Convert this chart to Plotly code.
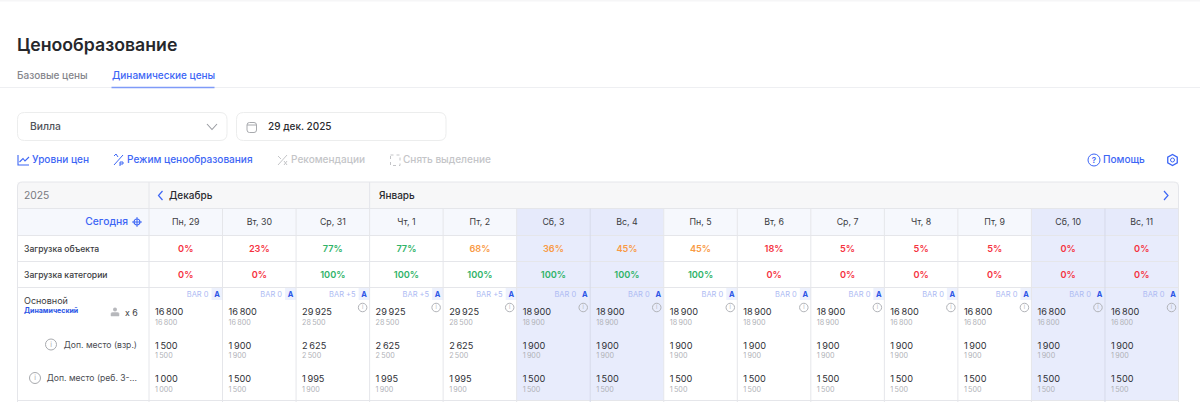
import plotly.graph_objects as go

# Table values
days = ['Пн, 29', 'Вт, 30', 'Ср, 31', 'Чт, 1', 'Пт, 2', 'Сб, 3', 'Вс, 4', 'Пн, 5', 'Вт, 6', 'Ср, 7', 'Чт, 8', 'Пт, 9', 'Сб, 10', 'Вс, 11']
weekend = [0, 0, 0, 0, 0, 1, 1, 0, 0, 0, 0, 0, 1, 1]
object_load = [0, 23, 77, 77, 68, 36, 45, 45, 18, 5, 5, 5, 0, 0]
category_load = [0, 0, 100, 100, 100, 100, 100, 100, 0, 0, 0, 0, 0, 0]
bar_labels = ['BAR 0', 'BAR 0', 'BAR +5', 'BAR +5', 'BAR +5', 'BAR 0', 'BAR 0', 'BAR 0', 'BAR 0', 'BAR 0', 'BAR 0', 'BAR 0', 'BAR 0', 'BAR 0']
has_info = [0, 0, 1, 1, 1, 1, 1, 1, 1, 1, 1, 1, 1, 1]
main_price = [16800, 16800, 29925, 29925, 29925, 18900, 18900, 18900, 18900, 18900, 16800, 16800, 16800, 16800]
main_base = [16800, 16800, 28500, 28500, 28500, 18900, 18900, 18900, 18900, 18900, 16800, 16800, 16800, 16800]
adult_price = [1500, 1900, 2625, 2625, 2625, 1900, 1900, 1900, 1900, 1900, 1900, 1900, 1900, 1900]
adult_base = [1500, 1900, 2500, 2500, 2500, 1900, 1900, 1900, 1900, 1900, 1900, 1900, 1900, 1900]
child_price = [1000, 1500, 1995, 1995, 1995, 1500, 1500, 1500, 1500, 1500, 1500, 1500, 1500, 1500]
child_base = [1000, 1500, 1900, 1900, 1900, 1500, 1500, 1500, 1500, 1500, 1500, 1500, 1500, 1500]

FONT = 'Inter'
BLUE = '#3d66f5'
DARK = '#2a2b30'
FAINT = '#b0b2b7'
GRID = '#e5e6ea'
RED = '#f5333f'
ORANGE = '#f99a45'
GREEN = '#2fb368'

LEFT, RIGHT = 17.5, 1178.5
COL0 = 149.0
COLW = (RIGHT - COL0) / len(days)
ROWS = [182, 208.5, 235.5, 261.5, 287.5, 400.5]

col_left = [COL0 + i * COLW for i in range(len(days))]
col_mid = [x + COLW / 2 for x in col_left]
col_right = [x + COLW for x in col_left]

fig = go.Figure()
shapes = []


def rect(x0, y0, x1, y1, fill):
    shapes.append(dict(type='rect', x0=x0, y0=y0, x1=x1, y1=y1, fillcolor=fill, line=dict(width=0), layer='below'))


def hline(x0, x1, y, color=GRID, width=1):
    shapes.append(dict(type='line', x0=x0, x1=x1, y0=y, y1=y, line=dict(color=color, width=width), layer='below'))


def vline(x, y0, y1, color=GRID, width=1):
    shapes.append(dict(type='line', x0=x, x1=x, y0=y0, y1=y1, line=dict(color=color, width=width), layer='below'))


def icon(path, color, width=1.1, fill=None, dash='solid'):
    shapes.append(dict(type='path', path=path, line=dict(color=color, width=width, dash=dash),
                       fillcolor=fill or 'rgba(0,0,0,0)', layer='above'))


def rounded(x0, y0, x1, y1, r):
    return (f'M{x0+r},{y0} L{x1-r},{y0} Q{x1},{y0} {x1},{y0+r} L{x1},{y1-r} Q{x1},{y1} {x1-r},{y1} '
            f'L{x0+r},{y1} Q{x0},{y1} {x0},{y1-r} L{x0},{y0+r} Q{x0},{y0} {x0+r},{y0} Z')


def text(xs, ys, labels, size, color, pos='middle right', weight=400):
    fig.add_trace(go.Scatter(x=xs, y=ys, text=labels, mode='text', textposition=pos, hoverinfo='skip',
                             textfont=dict(family=FONT, size=size, color=color, weight=weight)))


def circles(xs, ys, size, color, symbol='circle-open', lw=1):
    fig.add_trace(go.Scatter(x=xs, y=ys, mode='markers', hoverinfo='skip',
                             marker=dict(symbol=symbol, size=size, color=color, line=dict(color=color, width=lw))))


def money(v):
    return f'{v:,}'.replace(',', '\u2009')


def load_color(v):
    if v >= 77:
        return GREEN
    return ORANGE if v >= 30 else RED


# page chrome
rect(0, 0, 1200, 1.5, '#f6f6f7')
hline(0, 1200, 87.5, '#eeeff2')
hline(111.5, 214.5, 87.5, '#7f9bf8', 1.5)
text([17], [46.5], ['Ценообразование'], 17.7, '#26272b', weight=600)
text([17], [76], ['Базовые цены'], 10, '#85868c', weight=500)
text([112], [76], ['Динамические цены'], 10, BLUE, weight=500)

# selectors
icon(rounded(17.5, 112.5, 227, 140.5, 7), '#eceded', 1)
icon(rounded(236.5, 112.5, 446, 140.5, 7), '#eceded', 1)
text([30], [127.5], ['Вилла'], 10.3, '#50525a', weight=500)
icon('M207,124 L212,129.5 L217,124', '#9a9ca2', 1.1)
icon(rounded(247, 122.5, 256.5, 132.5, 2.5) + ' M247,125 L256.5,125', '#a8aaae', 1)
text([268], [127], ['29 дек. 2025'], 10, DARK, weight=500)

# toolbar
text([32, 127], [160.5, 160.5], ['Уровни цен', 'Режим ценообразования'], 10.05, BLUE, weight=500)
text([291, 403], [160.5, 160.5], ['Рекомендации', 'Снять выделение'], 10.05, '#c4c5c8', weight=500)
icon('M18,155 L18,165 L29,165 M19.5,162 L23,158.5 L25,161 L29,157', BLUE, 1.1)
icon('M114,165 L123,155 M114,156 L116,154 L118,157 M120,162 L120,166 M120,162 L123,162 L123,164 L120,164', BLUE, 1)
icon('M278,165 L287,155 M278,156 L281,159 M284,161 L287,165 M287,161 L284,165', '#c4c5c8', 1)
icon('M390.5,155 L400,155 L400,165.5 L390.5,165.5 Z', '#c4c5c8', 1, dash='dot')
text([1103], [160.5], ['Помощь'], 10.05, BLUE, weight=500)
circles([1094], [160], 12, BLUE)
text([1094], [160.5], ['?'], 8, BLUE, pos='middle center', weight=600)
circles([1172.5], [160], 11, BLUE, 'hexagon-open', 1.3)
circles([1172.5], [160], 4, BLUE)

# grid backgrounds
rect(LEFT, ROWS[0], RIGHT, ROWS[1], '#f7f7f8')
rect(LEFT, ROWS[1], COL0, ROWS[2], '#f6f8fd')
for i, we in enumerate(weekend):
    rect(col_left[i], ROWS[1], col_right[i], ROWS[2], '#e6eafb' if we else '#f6f8fd')
    if we:
        rect(col_left[i], ROWS[2], col_right[i], ROWS[5], '#e8ecfc')
    else:
        rect(col_right[i] - 11, ROWS[4] + 0.5, col_right[i], 300, '#edf1fd')

for y in ROWS[1:]:
    hline(LEFT, RIGHT, y)
vline(COL0, ROWS[0], 402)
vline(col_left[3], ROWS[0], ROWS[1])
for i, x in enumerate(col_left[1:], start=1):
    between = weekend[i] and weekend[i - 1]
    vline(x, ROWS[1], 402, '#d6daea' if between else GRID)
vline(LEFT, ROWS[0] + 5, 402)
vline(RIGHT, ROWS[0] + 5, 402)
icon(f'M{LEFT},{ROWS[0]+5} Q{LEFT},{ROWS[0]} {LEFT+5},{ROWS[0]} L{RIGHT-5},{ROWS[0]} Q{RIGHT},{ROWS[0]} {RIGHT},{ROWS[0]+5}', GRID, 1)

# header rows
text([24], [196], ['2025'], 10.3, '#77797f')
text([169], [196], ['Декабрь'], 10, DARK, weight=500)
text([379], [196], ['Январь'], 10, DARK, weight=500)
icon('M162.5,191 L158.5,195.5 L162.5,200', BLUE, 1.2)
icon('M1164,191 L1168,195.5 L1164,200', BLUE, 1.2)
text([128], [222.5], ['Сегодня'], 10.3, BLUE, pos='middle left', weight=500)
circles([137], [222], 6, BLUE, 'circle-open', 1.2)
circles([137], [222], 7, BLUE, 'cross-thin-open', 1)
text(col_mid, [222.5] * len(days), days, 8.8, '#3b3c42', pos='middle center')

# load rows
text([24, 24], [249.5, 275.5], ['Загрузка объекта', 'Загрузка категории'], 8.6, '#3b3c42', weight=500)
for row_y, values in ((249.5, object_load), (275.5, category_load)):
    text(col_mid, [row_y] * len(days), [f'{v}%' for v in values], 9.2,
         [load_color(v) for v in values], pos='middle center', weight=600)

# room row labels
text([24], [301.5], ['Основной'], 9, '#3b3c42')
text([24], [311], ['Динамический'], 7, '#2b55e6', weight=700)
circles([115], [309.5], 4, '#b7b8bc', 'circle', 0)
icon('M111,316 L111,313.5 Q111,312.5 113,312.5 L117,312.5 Q119,312.5 119,313.5 L119,316 Z', '#b7b8bc', 0.5, '#b7b8bc')
text([125], [313.5], ['x 6'], 8.8, '#3b3c42')
text([137, 137], [345.5, 379], ['Доп. место (взр.)', 'Доп. место (реб. 3-...'], 8.6, '#4b4c52', pos='middle left')
circles([51, 35], [344.5, 378], 11, '#a8aaae')
text([51, 35], [345, 378.5], ['i', 'i'], 7, '#a8aaae', pos='middle center')

# room row cells
text([x - 14 for x in col_right], [295] * len(days), bar_labels, 7.5, '#aebbf3', pos='middle left')
text([x - 5.5 for x in col_right], [295] * len(days), ['A'] * len(days), 7.5, '#2b55e6', pos='middle center', weight=700)

info_x = [r - 7 for r, f in zip(col_right, has_info) if f]
circles(info_x, [307.5] * len(info_x), 8.5, '#b1b3b8')
text(info_x, [308] * len(info_x), ['i'] * len(info_x), 5.5, '#b1b3b8', pos='middle center')

cell_x = [x + 6 for x in col_left]
for y, prices, bases in ((313, main_price, main_base), (346.5, adult_price, adult_base), (380, child_price, child_base)):
    text(cell_x, [y] * len(days), [money(v) for v in prices], 9.2, '#2f3036')
    text(cell_x, [y + 10] * len(days), [money(v) for v in bases], 7.2, FAINT)

fig.update_layout(
    width=1200, height=402, margin=dict(l=0, r=0, t=0, b=0),
    paper_bgcolor='white', plot_bgcolor='white', showlegend=False, shapes=shapes,
    xaxis=dict(range=[0, 1200], visible=False, fixedrange=True),
    yaxis=dict(range=[402, 0], visible=False, fixedrange=True),
)

fig.write_html("out.html", config=dict(displayModeBar=False),
               post_script="document.body.style.margin='0';document.body.style.overflow='hidden';")
